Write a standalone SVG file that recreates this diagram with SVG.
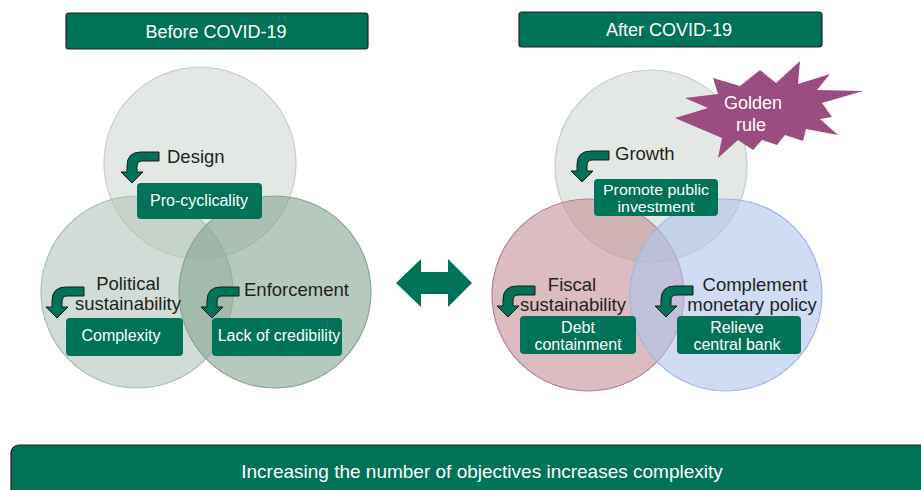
<svg xmlns="http://www.w3.org/2000/svg" xmlns:xlink="http://www.w3.org/1999/xlink" width="921" height="490" viewBox="0 0 921 490">
<style>
text{font-family:"Liberation Sans",Arial,sans-serif}
.hdr{fill:#007257;stroke:#222;stroke-width:1.2}
.hdrt{fill:#fff;font-size:18px;text-anchor:middle}
.lbl{fill:#231f20;font-size:18.5px}
.mid{text-anchor:middle}
.box{fill:#007257}
.boxt{fill:#fff;font-size:16px;text-anchor:middle}
.c{fill-opacity:0.6;stroke-width:1.2}
.arr{fill:#007257;stroke:#1a1a1a;stroke-width:1}
</style>
<defs>
<path id="bend" class="arr" d="M0,0 L-11,-11 L-5,-11 L-5,-17 Q-5,-31 9,-31 L27,-31 L27,-22 L10,-22 Q5,-22 5,-16 L5,-11 L11,-11 Z"/>
</defs>

<g id="header-before">
<rect class="hdr" x="66" y="13" width="302" height="36" rx="3"/>
<text class="hdrt" x="216" y="38">Before COVID-19</text>
</g>
<g id="header-after">
<rect class="hdr" x="519" y="12" width="303" height="35" rx="3"/>
<text class="hdrt" x="669" y="36">After COVID-19</text>
</g>

<g id="circle-design"><circle class="c" cx="200" cy="163" r="96" fill="#d0d9d2" stroke="#c3cfc7"/></g>
<g id="circle-political"><circle class="c" cx="137" cy="292" r="96" fill="#b1c5b9" stroke="#a9bfb1"/></g>
<g id="circle-enforcement"><circle class="c" cx="275" cy="292" r="96" fill="#85a593" stroke="#86a593"/></g>

<g id="circle-growth"><circle class="c" cx="651" cy="166" r="96" fill="#d0d9d2" stroke="#c3cfc7"/></g>
<g id="circle-fiscal"><circle class="c" cx="588" cy="295" r="96" fill="#c58f98" stroke="#b57fa6"/></g>
<g id="circle-monetary"><circle class="c" cx="726" cy="295" r="96" fill="#afc5ed" stroke="#9db6e6"/></g>

<g id="node-design">
<use xlink:href="#bend" href="#bend" transform="translate(132,183)"/>
<text class="lbl" x="167" y="163">Design</text>
<rect class="box" x="137" y="183" width="125" height="36" rx="4"/>
<text class="boxt" x="199" y="206">Pro-cyclicality</text>
</g>

<g id="node-political">
<use xlink:href="#bend" href="#bend" transform="translate(57,318)"/>
<text class="lbl mid" x="128" y="290">Political</text>
<text class="lbl mid" x="128" y="310">sustainability</text>
<rect class="box" x="66" y="318" width="117" height="38" rx="4"/>
<text class="boxt" x="121" y="341">Complexity</text>
</g>

<g id="node-enforcement">
<use xlink:href="#bend" href="#bend" transform="translate(212,318)"/>
<text class="lbl" x="244" y="296">Enforcement</text>
<rect class="box" x="212" y="318" width="130" height="38" rx="4"/>
<text class="boxt" x="279" y="341">Lack of credibility</text>
</g>

<g id="node-growth">
<use xlink:href="#bend" href="#bend" transform="translate(582,182)"/>
<text class="lbl" x="615" y="160">Growth</text>
<rect class="box" x="594" y="179" width="124" height="37" rx="4"/>
<text class="boxt" style="font-size:14.5px" x="656" y="195" textLength="106" lengthAdjust="spacingAndGlyphs">Promote public</text>
<text class="boxt" style="font-size:14.5px" x="656" y="212" textLength="77" lengthAdjust="spacingAndGlyphs">investment</text>
</g>

<g id="node-fiscal">
<use xlink:href="#bend" href="#bend" transform="translate(508,317)"/>
<text class="lbl mid" x="572" y="291">Fiscal</text>
<text class="lbl mid" x="573" y="311">sustainability</text>
<rect class="box" x="520" y="316" width="116" height="38" rx="4"/>
<text class="boxt" x="578" y="333">Debt</text>
<text class="boxt" x="578" y="350">containment</text>
</g>

<g id="node-monetary">
<use xlink:href="#bend" href="#bend" transform="translate(666,317)"/>
<text class="lbl mid" x="755" y="291">Complement</text>
<text class="lbl mid" x="752" y="311">monetary policy</text>
<rect class="box" x="677" y="316" width="124" height="38" rx="4"/>
<text class="boxt" x="737" y="333">Relieve</text>
<text class="boxt" x="737" y="350">central bank</text>
</g>

<g id="golden-rule">
<polygon fill="#9b4c80" points="800,61 798,84 830,74 817,90 863,91 822,103 832,117 820,119 838,135 806,129 803,141 785,135 777,145 762,140 753,150 738,140 718,158 722,138 675,118 708,108 685,98 718,94 713,78 740,86 760,70 776,83"/>
<text fill="#fff" font-size="18" text-anchor="middle" x="753" y="109">Golden</text>
<text fill="#fff" font-size="18" text-anchor="middle" x="751" y="131">rule</text>
</g>

<g id="connectors">
<path fill="#007257" d="M396,283 L421,259 L421,272 L448,272 L448,259 L472,283 L448,307 L448,294 L421,294 L421,307 Z"/>
</g>

<g id="banner">
<rect x="11" y="445" width="940" height="70" rx="8" fill="#007257" stroke="#222" stroke-width="1.2"/>
<text fill="#fff" font-size="19" text-anchor="middle" x="482" y="478">Increasing the number of objectives increases complexity</text>
</g>
</svg>
